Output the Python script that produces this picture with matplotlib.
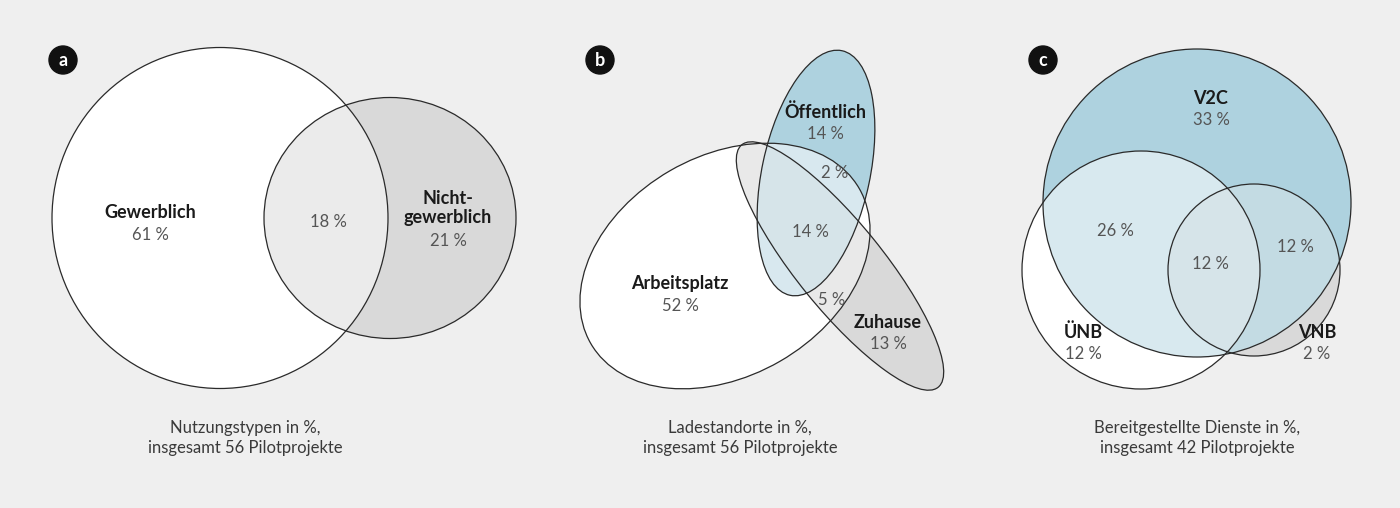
import numpy as np
import matplotlib
matplotlib.use("Agg")
import matplotlib.pyplot as plt
from matplotlib.patches import Ellipse, Circle

plt.rcParams['font.family'] = ['Lato', 'DejaVu Sans']

W, H = 1400, 508
BG = '#efefef'

# Panel data: shapes (cx, cy, width, height, angle) in image pixels (y down)
shapes_a = [(220, 218, 336, 341, 0), (390, 218, 252, 241, 0)]
colors_a = {(1, 0): '#ffffff', (0, 1): '#d9d9d9', (1, 1): '#ebebeb'}

shapes_b = [(725, 266, 310, 220, 30),   # Arbeitsplatz
            (816, 173, 250, 108, 78),   # Öffentlich
            (840, 266, 312, 86, -51)]   # Zuhause
colors_b = {(1, 0, 0): '#ffffff', (0, 1, 0): '#aed3df', (0, 0, 1): '#d9d9d9',
            (1, 1, 0): '#d8e8ef', (1, 0, 1): '#e9e9e9', (0, 1, 1): '#d4e6ed',
            (1, 1, 1): '#d6e4ea'}

shapes_c = [(1197, 203, 308, 308, 0),   # V2C
            (1141, 270, 238, 238, 0),   # ÜNB
            (1254, 270, 172, 172, 0)]   # VNB
colors_c = {(1, 0, 0): '#aed3df', (0, 1, 0): '#ffffff', (0, 0, 1): '#d9d9d9',
            (1, 1, 0): '#d8e9f0', (1, 0, 1): '#c4dbe3', (0, 1, 1): '#e6e6e6',
            (1, 1, 1): '#d6e4ea'}

labels_a = [("Gewerblich", "61 %", 150, 213), ("Nicht-\ngewerblich", "21 %", 448, 208)]
pcts_a = [("18 %", 328, 222)]
labels_b = [("Öffentlich", "14 %", 825, 112), ("Arbeitsplatz", "52 %", 680, 284),
            ("Zuhause", "13 %", 888, 322)]
pcts_b = [("2 %", 835, 173), ("14 %", 810, 232), ("5 %", 832, 300)]
labels_c = [("V2C", "33 %", 1211, 98), ("ÜNB", "12 %", 1083, 332), ("VNB", "2 %", 1317, 332)]
pcts_c = [("26 %", 1115, 231), ("12 %", 1210, 264), ("12 %", 1295, 247)]

captions = [("Nutzungstypen in %,\ninsgesamt 56 Pilotprojekte", 245),
            ("Ladestandorte in %,\ninsgesamt 56 Pilotprojekte", 740),
            ("Bereitgestellte Dienste in %,\ninsgesamt 42 Pilotprojekte", 1197)]
badges = [("a", 63), ("b", 600), ("c", 1043)]


def hexrgb(h):
    return [int(h[i:i + 2], 16) / 255 for i in (1, 3, 5)]


def inside(xx, yy, s):
    cx, cy, w, h, ang = s
    t = np.deg2rad(ang)
    dx, dy = xx - cx, (H - yy) - (H - cy)
    u = dx * np.cos(t) + dy * np.sin(t)
    v = -dx * np.sin(t) + dy * np.cos(t)
    return (u / (w / 2)) ** 2 + (v / (h / 2)) ** 2 <= 1


fig = plt.figure(figsize=(14, 5.08), dpi=100, facecolor=BG)
ax = fig.add_axes([0, 0, 1, 1])
ax.set_xlim(0, W)
ax.set_ylim(0, H)
ax.axis('off')

img = np.ones((H * 2, W * 2, 3)) * np.array(hexrgb(BG))
ys, xs = np.mgrid[0:H * 2, 0:W * 2]
xx = (xs + 0.5) / 2
yy = (ys + 0.5) / 2
for shapes, cols in [(shapes_a, colors_a), (shapes_b, colors_b), (shapes_c, colors_c)]:
    masks = [inside(xx, yy, s) for s in shapes]
    for key, col in cols.items():
        m = np.ones_like(masks[0])
        for k, mk in zip(key, masks):
            m &= mk if k else ~mk
        img[m] = hexrgb(col)
ax.imshow(img, extent=(0, W, 0, H), origin='upper', interpolation='bilinear', zorder=1)

for s in shapes_a + shapes_b + shapes_c:
    cx, cy, w, h, ang = s
    ax.add_patch(Ellipse((cx, H - cy), w, h, angle=ang, fill=False,
                         edgecolor='#2a2a2a', linewidth=0.9, zorder=3))

for labels, pcts in [(labels_a, pcts_a), (labels_b, pcts_b), (labels_c, pcts_c)]:
    for name, pct, x, y in labels:
        n = name.count("\n")
        ax.text(x, H - y, name, ha='center', va='center', fontsize=13, fontweight='bold',
                color='#1a1a1a', linespacing=1.15, zorder=4)
        ax.text(x, H - y - 22 - n * 11, pct, ha='center', va='center', fontsize=12,
                color='#555555', zorder=4)
    for pct, x, y in pcts:
        ax.text(x, H - y, pct, ha='center', va='center', fontsize=12,
                color='#555555', zorder=4)

for txt, x in captions:
    ax.text(x, H - 438, txt, ha='center', va='center', fontsize=12,
            color='#3a3a3a', linespacing=1.35, zorder=4)

for letter, x in badges:
    ax.add_patch(Circle((x, H - 60), 14, color='#111111', zorder=5))
    ax.text(x, H - 61, letter, ha='center', va='center', fontsize=13, fontweight='bold',
            color='white', zorder=6)

fig.savefig('out.png', dpi=100, facecolor=BG)
